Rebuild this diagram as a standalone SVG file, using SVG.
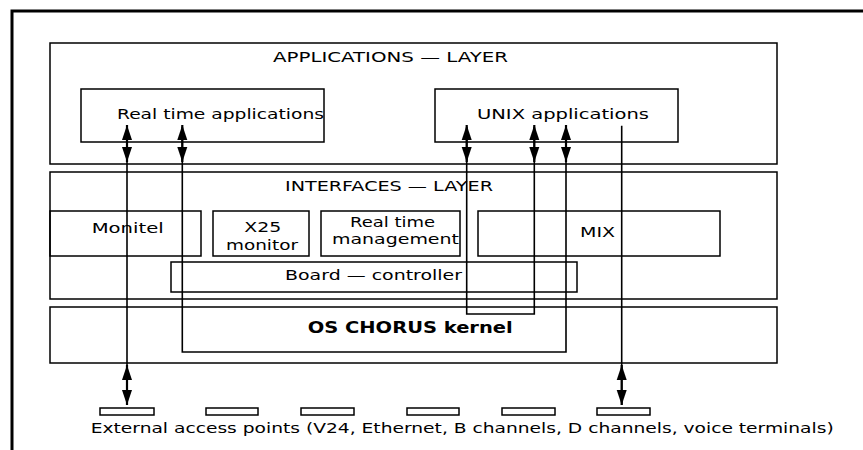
<svg xmlns="http://www.w3.org/2000/svg" width="863" height="450" viewBox="0 0 863 450">
<defs>
<style>
.box{fill:none;stroke:#000;stroke-width:1.5}
.ap{fill:#fff;stroke:#000;stroke-width:1.5}
.frame{fill:none;stroke:#000;stroke-width:3}
.t{font-family:"DejaVu Sans","Liberation Sans",sans-serif;font-size:14px;fill:#000}
.b{font-family:"DejaVu Sans","Liberation Sans",sans-serif;font-size:16px;font-weight:bold;fill:#000}
.ln{fill:none;stroke:#000;stroke-width:1.6}
.arr{fill:none;stroke:#000;stroke-width:2.2;marker-start:url(#ah);marker-end:url(#ah)}
</style>
<marker id="ah" viewBox="0 0 15 11" refX="15" refY="5.5" markerWidth="15" markerHeight="11" markerUnits="userSpaceOnUse" orient="auto-start-reverse">
<path d="M0,0.5 L15,5.5 L0,10.5 z" fill="#000"/>
</marker>
</defs>
<rect width="863" height="450" fill="#fff"/>
<path class="frame" d="M12,450 V11 H863"/>

<g id="applications-layer">
<rect class="box" x="50" y="43" width="727" height="121"/>
<text class="t" x="273" y="62" textLength="235" lengthAdjust="spacingAndGlyphs">APPLICATIONS — LAYER</text>
</g>
<g id="realtime-applications">
<rect class="box" x="81" y="89" width="243" height="53"/>
<text class="t" x="117" y="119" font-size="14.5" textLength="207" lengthAdjust="spacingAndGlyphs">Real time applications</text>
</g>
<g id="unix-applications">
<rect class="box" x="435" y="89" width="243" height="53"/>
<text class="t" x="477" y="119.3" textLength="172" lengthAdjust="spacingAndGlyphs">UNIX applications</text>
</g>

<g id="interfaces-layer">
<rect class="box" x="50" y="172" width="727" height="127"/>
<text class="t" x="285" y="190.7" textLength="208" lengthAdjust="spacingAndGlyphs">INTERFACES — LAYER</text>
</g>
<g id="monitel">
<rect class="box" x="50" y="211" width="151" height="45"/>
<text class="t" x="91.7" y="232.7" textLength="72" lengthAdjust="spacingAndGlyphs">Monitel</text>
</g>
<g id="x25-monitor">
<rect class="box" x="213" y="211" width="96" height="45"/>
<text class="t" x="244.3" y="231.7" textLength="37" lengthAdjust="spacingAndGlyphs">X25</text>
<text class="t" x="226" y="250" textLength="72" lengthAdjust="spacingAndGlyphs">monitor</text>
</g>
<g id="realtime-management">
<rect class="box" x="321" y="211" width="139" height="45"/>
<text class="t" x="350" y="226.5" textLength="85" lengthAdjust="spacingAndGlyphs">Real time</text>
<text class="t" x="332" y="244" textLength="127" lengthAdjust="spacingAndGlyphs">management</text>
</g>
<g id="mix">
<rect class="box" x="478" y="211" width="242" height="45"/>
<text class="t" x="580" y="237.3" textLength="35" lengthAdjust="spacingAndGlyphs">MIX</text>
</g>
<g id="board-controller">
<rect class="box" x="171" y="262" width="406" height="30"/>
<text class="t" x="285" y="280" textLength="177" lengthAdjust="spacingAndGlyphs">Board — controller</text>
</g>

<g id="kernel-layer">
<rect class="box" x="50" y="307" width="727" height="56"/>
<text class="b" x="307.7" y="332.7" textLength="205" lengthAdjust="spacingAndGlyphs">OS CHORUS kernel</text>
</g>

<g id="access-points">
<rect class="ap" x="100" y="408" width="54" height="7"/>
<rect class="ap" x="206" y="408" width="52" height="7"/>
<rect class="ap" x="301" y="408" width="53" height="7"/>
<rect class="ap" x="407" y="408" width="52" height="7"/>
<rect class="ap" x="502" y="408" width="53" height="7"/>
<rect class="ap" x="597" y="408" width="53" height="7"/>
<text class="t" x="90.7" y="433.3" textLength="743" lengthAdjust="spacingAndGlyphs">External access points (V24, Ethernet, B channels, D channels, voice terminals)</text>
</g>

<g id="connectors">
<path class="ln" d="M127,127 V405"/>
<path class="ln" d="M182.3,127 V352 H566 V127"/>
<path class="ln" d="M466.7,127 V314 H534.3 V127"/>
<path class="ln" d="M621.7,125.7 V405"/>
<path class="arr" d="M127,125 V162"/>
<path class="arr" d="M182.3,125 V162"/>
<path class="arr" d="M466.7,125 V162"/>
<path class="arr" d="M534.3,125 V162"/>
<path class="arr" d="M566,125 V162"/>
<path class="arr" d="M127,365 V405"/>
<path class="arr" d="M621.7,365 V405"/>
</g>
</svg>
